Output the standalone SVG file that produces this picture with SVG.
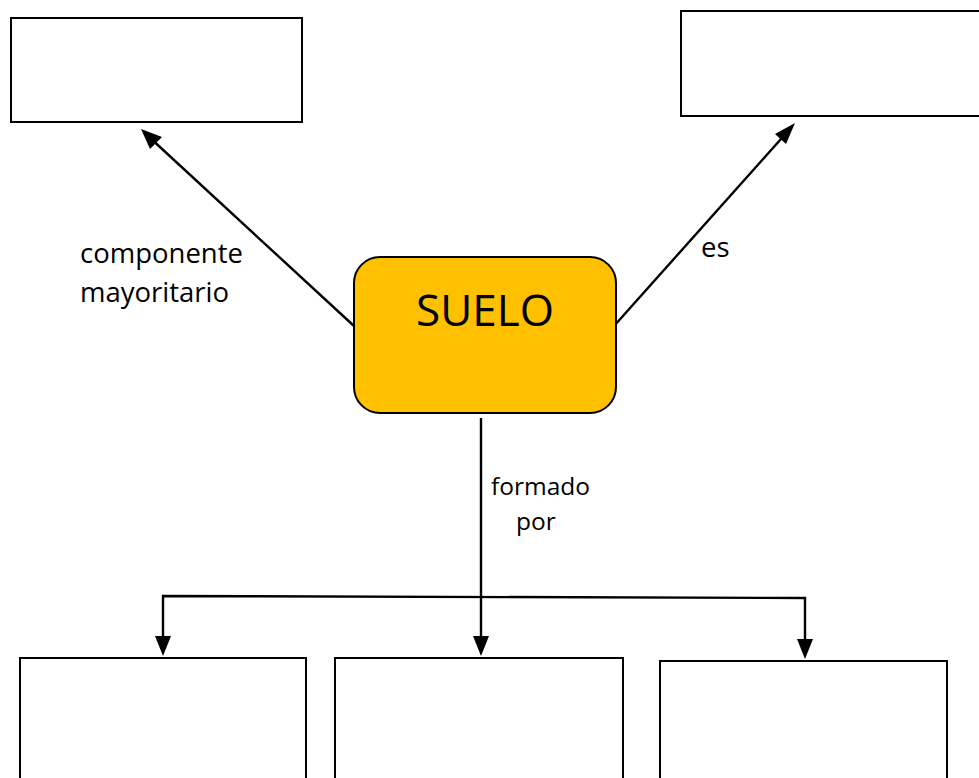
<svg xmlns="http://www.w3.org/2000/svg" width="979" height="778" viewBox="0 0 979 778">
<defs>
<style>
.box{fill:#fff;stroke:#000;stroke-width:2}
.main{fill:#FFC000;stroke:#000;stroke-width:2}
.ln{fill:none;stroke:#000;stroke-width:2.4}
.lbl{font-family:"Open Sans","Liberation Sans",sans-serif;font-size:27.5px;fill:#000}
.lbl2{font-family:"Open Sans","Liberation Sans",sans-serif;font-size:24.5px;fill:#000}
.big{font-family:"Open Sans","Liberation Sans",sans-serif;font-size:44px;fill:#000}
.head{fill:#000}
</style>
</defs>
<rect width="979" height="778" fill="#fff"/>
<g id="connectors">
<line class="ln" x1="354" y1="326" x2="148" y2="136"/>
<line class="ln" x1="614" y1="326" x2="789" y2="130"/>
<polyline class="ln" points="481,418 481,640"/>
<polyline class="ln" points="163,640 163,596 805,598 805,644"/>
<polygon class="head" points="141,129 162,137 150,149"/>
<polygon class="head" points="795,123 786,144 775,134"/>
<polygon class="head" points="473,636 489,636 481,656"/>
<polygon class="head" points="155,636 171,636 163,656"/>
<polygon class="head" points="797,639 813,639 805,659"/>
</g>
<g id="box-top-left"><rect class="box" x="11" y="18" width="291" height="104"/></g>
<g id="box-top-right"><rect class="box" x="681" y="11" width="310" height="105"/></g>
<g id="suelo">
<rect class="main" x="354" y="257" width="262" height="156" rx="26" ry="26"/>
<text class="big" x="485" y="326" text-anchor="middle">SUELO</text>
</g>
<g id="box-bottom-1"><rect class="box" x="20" y="658" width="286" height="140"/></g>
<g id="box-bottom-2"><rect class="box" x="335" y="658" width="288" height="140"/></g>
<g id="box-bottom-3"><rect class="box" x="660" y="661" width="287" height="140"/></g>
<g id="labels">
<text class="lbl" x="80" y="263">componente</text>
<text class="lbl" x="80" y="302">mayoritario</text>
<text class="lbl" x="701" y="257">es</text>
<text class="lbl2" x="491" y="495">formado</text>
<text class="lbl2" x="516" y="530">por</text>
</g>
</svg>
